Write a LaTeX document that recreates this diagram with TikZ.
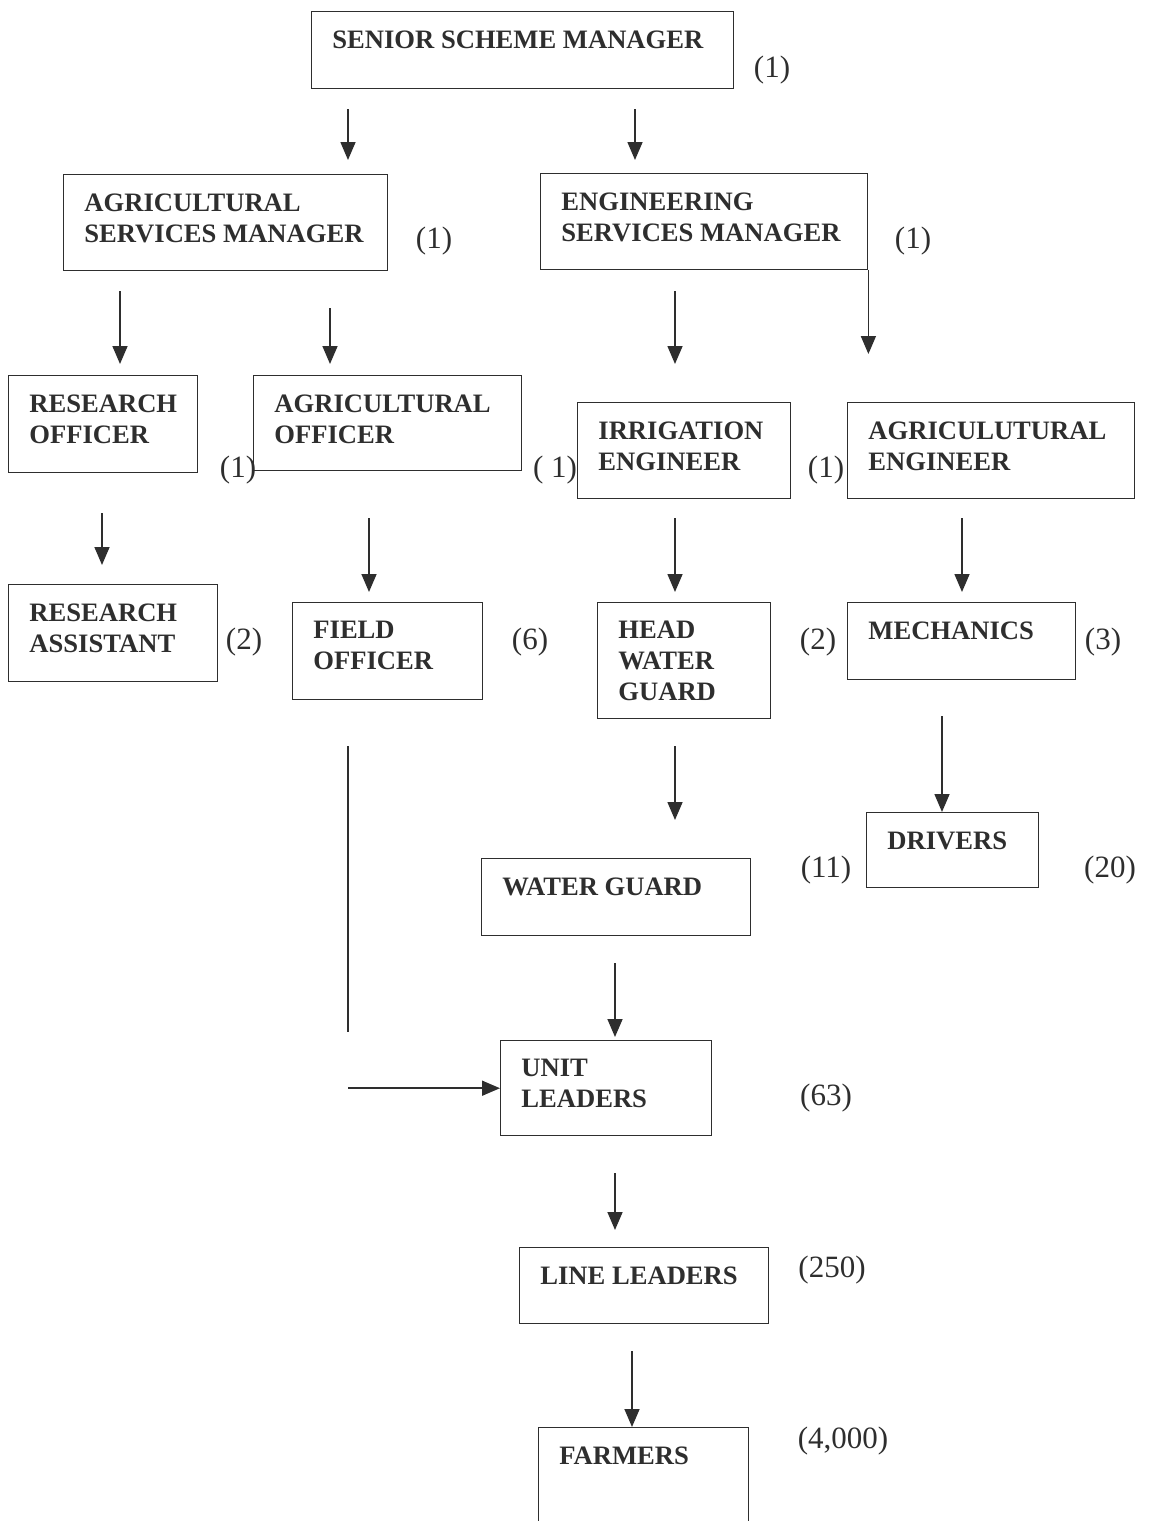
\documentclass[tikz,border=0pt]{standalone}
\usepackage{fontspec}
\setmainfont{Liberation Serif}
\usepackage{xcolor}
\usepackage{tikz}
\usetikzlibrary{positioning,calc,arrows.meta}

\definecolor{ink}{HTML}{2E2E2E}

\begin{document}
\begin{tikzpicture}[x=0.5pt,y=-0.5pt,
  box/.style={draw=ink,line width=0.7pt,inner sep=0pt,anchor=north west},
  lbl/.style={anchor=north west,inner sep=0pt,xshift=10.5pt,yshift=-9.5pt,align=left,
    text=ink,font=\fontsize{13.3}{15.5}\selectfont\bfseries},
  cnt/.style={inner sep=0pt,text=ink,font=\fontsize{15.5}{18}\selectfont},
  arr/.style={draw=ink,line width=0.8pt,-{Triangle[length=9pt,width=7.5pt]}},
  plain/.style={draw=ink,line width=0.8pt}]
  \useasboundingbox (0,0) rectangle (1151,1521);

  % boxes
  \node[box,minimum width=211pt,minimum height=38.5pt,label={[lbl]north west:SENIOR SCHEME MANAGER}] (sm) at (311,11) {};
  \node[box,minimum width=162pt,minimum height=48pt,label={[lbl]north west:AGRICULTURAL\\SERVICES MANAGER}] (asm) at (63,174) {};
  \node[box,minimum width=163.5pt,minimum height=48pt,label={[lbl]north west:ENGINEERING\\SERVICES MANAGER}] (esm) at (540,173) {};
  \node[box,minimum width=94.5pt,minimum height=48.5pt,label={[lbl]north west:RESEARCH\\OFFICER}] (ro) at (8,375) {};
  \node[box,minimum width=134pt,minimum height=47.5pt,label={[lbl]north west:AGRICULTURAL\\OFFICER}] (ao) at (253,375) {};
  \node[box,minimum width=106.5pt,minimum height=48pt,label={[lbl]north west:IRRIGATION\\ENGINEER}] (ie) at (577,402) {};
  \node[box,minimum width=143.5pt,minimum height=48pt,label={[lbl]north west:AGRICULUTURAL\\ENGINEER}] (ae) at (847,402) {};
  \node[box,minimum width=104.5pt,minimum height=48.5pt,label={[lbl]north west:RESEARCH\\ASSISTANT}] (ra) at (8,584) {};
  \node[box,minimum width=95pt,minimum height=48.5pt,label={[lbl]north west:FIELD\\OFFICER}] (fo) at (292,602) {};
  \node[box,minimum width=86.5pt,minimum height=58pt,label={[lbl]north west:HEAD\\WATER\\GUARD}] (hwg) at (597,602) {};
  \node[box,minimum width=114pt,minimum height=38.5pt,label={[lbl]north west:MECHANICS}] (mech) at (847,602) {};
  \node[box,minimum width=86pt,minimum height=37.5pt,label={[lbl]north west:DRIVERS}] (drv) at (866,812) {};
  \node[box,minimum width=134.5pt,minimum height=38.5pt,label={[lbl]north west:WATER GUARD}] (wg) at (481,858) {};
  \node[box,minimum width=105.5pt,minimum height=47.5pt,label={[lbl]north west:UNIT\\LEADERS}] (ul) at (500,1040) {};
  \node[box,minimum width=124.5pt,minimum height=38pt,label={[lbl]north west:LINE LEADERS}] (ll) at (519,1247) {};
  \node[box,minimum width=105pt,minimum height=52pt,label={[lbl]north west:FARMERS}] (fm) at (538,1427) {};

  % staff numbers
  \node[cnt] (n-sm) at (772,70) {(1)};
  \node[cnt] (n-asm) at (434,241) {(1)};
  \node[cnt] (n-esm) at (913,241) {(1)};
  \node[cnt] (n-ro) at (238,470) {(1)};
  \node[cnt] (n-ao) at (555,470) {( 1)};
  \node[cnt] (n-ie) at (826,470) {(1)};
  \node[cnt] (n-ra) at (244,642) {(2)};
  \node[cnt] (n-fo) at (530,642) {(6)};
  \node[cnt] (n-hwg) at (818,642) {(2)};
  \node[cnt] (n-mech) at (1103,642) {(3)};
  \node[cnt] (n-wg) at (826,870) {(11)};
  \node[cnt] (n-drv) at (1110,870) {(20)};
  \node[cnt] (n-ul) at (826,1098) {(63)};
  \node[cnt] (n-ll) at (832,1270) {(250)};
  \node[cnt] (n-fm) at (843,1441) {(4,000)};

  % connectors
  \draw[arr] ([yshift=-10pt]sm.south -| 348,0) -- ([yshift=7pt]asm.north -| 348,0);
  \draw[arr] ([yshift=-10pt]sm.south -| 635,0) -- ([yshift=6.5pt]esm.north -| 635,0);
  \draw[arr] ([yshift=-10pt]asm.south -| 120,0) -- ([yshift=5.5pt]ro.north -| 120,0);
  \draw[arr] ([yshift=-18.5pt]asm.south -| 330,0) -- ([yshift=5.5pt]ao.north -| 330,0);
  \draw[arr] ([yshift=-10.5pt]esm.south -| 675,0) -- ([yshift=19pt]ie.north -| 675,0);
  \draw[arr] (esm.south east) -- ([yshift=24pt]ae.north -| esm.east);
  \draw[arr] ([yshift=-20pt]ro.south -| 102,0) -- ([yshift=9.5pt]ra.north -| 102,0);
  \draw[arr] ([yshift=-23.5pt]ao.south -| 369,0) -- ([yshift=5pt]fo.north -| 369,0);
  \draw[arr] ([yshift=-9.5pt]ie.south -| 675,0) -- ([yshift=5pt]hwg.north -| 675,0);
  \draw[arr] ([yshift=-9.5pt]ae.south -| 962,0) -- ([yshift=5pt]mech.north -| 962,0);
  \draw[arr] ([yshift=-13.5pt]hwg.south -| 675,0) -- ([yshift=19pt]wg.north -| 675,0);
  \draw[arr] ([yshift=-18pt]mech.south -| 942,0) -- (drv.north -| 942,0);
  \draw[arr] ([yshift=-13.5pt]wg.south -| 615,0) -- ([yshift=1.5pt]ul.north -| 615,0);
  \coordinate (fo-end) at (348,1032);
  \coordinate (fo-in) at (ul.west -| fo-end);
  \draw[plain] ([yshift=-23pt]fo.south -| fo-end) -- (fo-end);
  \draw[arr] (fo-in) -- (ul.west);
  \draw[arr] ([yshift=-18.5pt]ul.south -| 615,0) -- ([yshift=8.5pt]ll.north -| 615,0);
  \draw[arr] ([yshift=-13.5pt]ll.south -| 632,0) -- (fm.north -| 632,0);
\end{tikzpicture}
\end{document}
